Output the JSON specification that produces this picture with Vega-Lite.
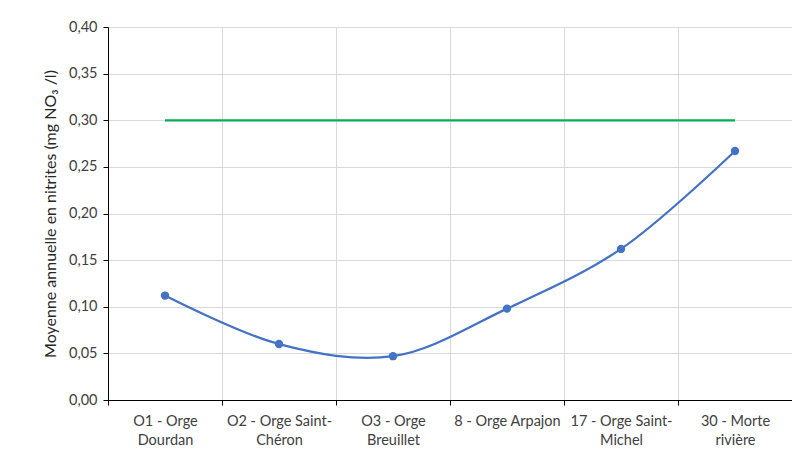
{
  "$schema": "https://vega.github.io/schema/vega-lite/v6.json",
  "width": 684,
  "height": 373,
  "autosize": {"type": "none"},
  "padding": {"left": 108, "top": 27, "right": 0, "bottom": 55},
  "background": "#ffffff",
  "config": {
    "view": {"stroke": null},
    "font": "Lato",
    "axis": {
      "labelFont": "Lato",
      "titleFont": "Lato",
      "labelColor": "#404040",
      "titleColor": "#262626",
      "gridColor": "#d9d9d9",
      "gridWidth": 1,
      "domainColor": "#000000",
      "tickColor": "#000000"
    }
  },
  "data": {
    "values": [
      {"site": "O1 - Orge\nDourdan", "nitrites": 0.112, "seuil": 0.3},
      {"site": "O2 - Orge Saint-\nChéron", "nitrites": 0.060, "seuil": 0.3},
      {"site": "O3 - Orge\nBreuillet", "nitrites": 0.047, "seuil": 0.3},
      {"site": "8 - Orge Arpajon", "nitrites": 0.098, "seuil": 0.3},
      {"site": "17 - Orge Saint-\nMichel", "nitrites": 0.162, "seuil": 0.3},
      {"site": "30 - Morte\nrivière", "nitrites": 0.267, "seuil": 0.3}
    ]
  },
  "encoding": {
    "x": {
      "field": "site",
      "type": "nominal",
      "sort": null,
      "scale": {"paddingInner": 0, "paddingOuter": 0},
      "axis": {
        "title": null,
        "labelAngle": 0,
        "labelFontSize": 14.5,
        "labelLineHeight": 19,
        "labelPadding": 9,
        "labelExpr": "split(datum.label, '\\n')",
        "tickBand": "extent",
        "tickSize": 5,
        "grid": true,
        "domainWidth": 1
      }
    }
  },
  "layer": [
    {
      "mark": {"type": "line", "color": "#00b050", "strokeWidth": 2.25},
      "encoding": {
        "y": {
          "field": "seuil",
          "type": "quantitative",
          "scale": {"domain": [0, 0.4], "nice": false},
          "axis": {
            "title": "Moyenne annuelle en nitrites (mg NO₃ /l)",
            "titleFontSize": 16,
            "titleFontWeight": "normal",
            "titlePadding": 10,
            "labelFontSize": 14.5,
            "labelPadding": 6,
            "tickSize": 5,
            "values": [0, 0.05, 0.1, 0.15, 0.2, 0.25, 0.3, 0.35, 0.4],
            "labelExpr": "replace(format(datum.value, '.2f'), '.', ',')",
            "grid": true
          }
        }
      }
    },
    {
      "mark": {"type": "line", "color": "#4472c4", "strokeWidth": 2.25, "interpolate": "catmull-rom"},
      "encoding": {
        "y": {"field": "nitrites", "type": "quantitative"}
      }
    },
    {
      "mark": {"type": "point", "filled": true, "color": "#4472c4", "size": 70, "opacity": 1},
      "encoding": {
        "y": {"field": "nitrites", "type": "quantitative"}
      }
    }
  ]
}
